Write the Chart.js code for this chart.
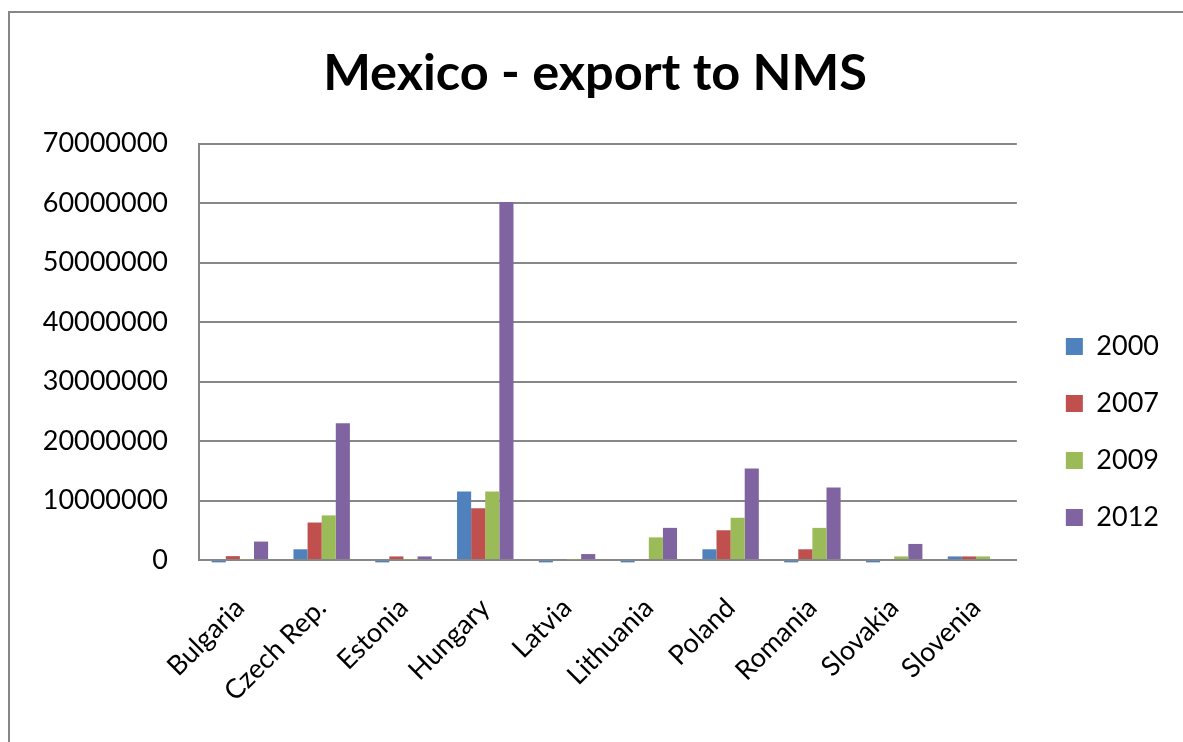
<!DOCTYPE html>
<html>
<head>
<meta charset="utf-8">
<title>Mexico - export to NMS</title>
<script src="https://cdn.jsdelivr.net/npm/chart.js@4.4.1/dist/chart.umd.min.js"></script>
<style>
    html, body { margin: 0; padding: 0; background: #fff; }
    #wrap { position: relative; width: 1183px; height: 742px; overflow: hidden; }
    #frame {
        position: absolute; left: 8px; top: 11px; right: -4px; bottom: -4px;
        border: 2px solid #878787;
    }
    #chart { position: absolute; left: 0; top: 0; }
</style>
</head>
<body>
<div id="wrap">
    <div id="frame"></div>
    <canvas id="chart" width="1183" height="742"></canvas>
</div>
<script>
// data
const countries = ['Bulgaria', 'Czech Rep.', 'Estonia', 'Hungary', 'Latvia',
    'Lithuania', 'Poland', 'Romania', 'Slovakia', 'Slovenia'];
const years = ['2000', '2007', '2009', '2012'];

const export2000 = [-400000, 1800000, -400000, 11500000, -400000, -400000, 1800000, -400000, -400000, 600000];
const export2007 = [650000, 6300000, 600000, 8700000, 150000, 150000, 5000000, 1800000, 150000, 600000];
const export2009 = [100000, 7500000, 100000, 11500000, 100000, 3800000, 7100000, 5400000, 600000, 600000];
const export2012 = [3100000, 23000000, 600000, 60200000, 1000000, 5400000, 15400000, 12200000, 2700000, 0];

const yTicks = [0, 10000000, 20000000, 30000000, 40000000, 50000000, 60000000, 70000000];

const colors = ['#4F81BD', '#C0504D', '#9BBB59', '#8064A2'];
const FONT = 'Lato, "Open Sans", sans-serif';

document.addEventListener('DOMContentLoaded', function() {
    const ctx = document.getElementById('chart').getContext('2d');

    const data = {
        labels: countries,
        datasets: [export2000, export2007, export2009, export2012].map(function(values, i) {
            return {
                label: years[i],
                data: values,
                backgroundColor: colors[i],
                borderWidth: 0,
                categoryPercentage: 0.69,
                barPercentage: 1.0,
                clip: false
            };
        })
    };

    // nudge the legend away from the plot and keep it level with the plot area
    const legendShift = {
        id: 'legendShift',
        afterLayout: function(chart) {
            chart.legend.left += 19;
            chart.legend.right += 19;
            chart.legend.bottom = chart.chartArea.bottom + 1;
        }
    };

    const optionsChart = {
        responsive: false,
        animation: false,
        layout: {
            padding: { left: 40, right: 33, top: 0, bottom: 0 }
        },
        plugins: {
            title: {
                display: true,
                text: 'Mexico - export to NMS',
                color: '#000',
                font: { family: FONT, size: 50.5, weight: 'bold' },
                padding: { top: 43, bottom: 40 }
            },
            legend: {
                position: 'right',
                align: 'end',
                labels: {
                    boxWidth: 17,
                    boxHeight: 17,
                    padding: 30,
                    color: '#000',
                    font: { family: FONT, size: 27 }
                }
            },
            tooltip: { enabled: false }
        },
        scales: {
            x: {
                grid: { display: false },
                border: { display: true, color: '#878787', width: 2 },
                ticks: {
                    color: '#000',
                    font: { family: FONT, size: 27 },
                    maxRotation: 45,
                    minRotation: 45,
                    padding: 24,
                    autoSkip: false
                },
                afterFit: function(scale) {
                    scale.height = 182;
                }
            },
            y: {
                min: 0,
                max: 70000000,
                afterBuildTicks: function(scale) {
                    scale.ticks = yTicks.map(function(v) { return { value: v }; });
                },
                grid: {
                    color: '#878787',
                    lineWidth: 2,
                    drawTicks: false
                },
                border: { display: true, color: '#878787', width: 2 },
                ticks: {
                    color: '#000',
                    font: { family: FONT, size: 27 },
                    padding: 31,
                    callback: function(value) { return String(value); }
                },
                afterFit: function(scale) {
                    scale.width = 159;
                }
            }
        }
    };

    new Chart(ctx, { type: 'bar', data: data, options: optionsChart, plugins: [legendShift] });
});
</script>
</body>
</html>
